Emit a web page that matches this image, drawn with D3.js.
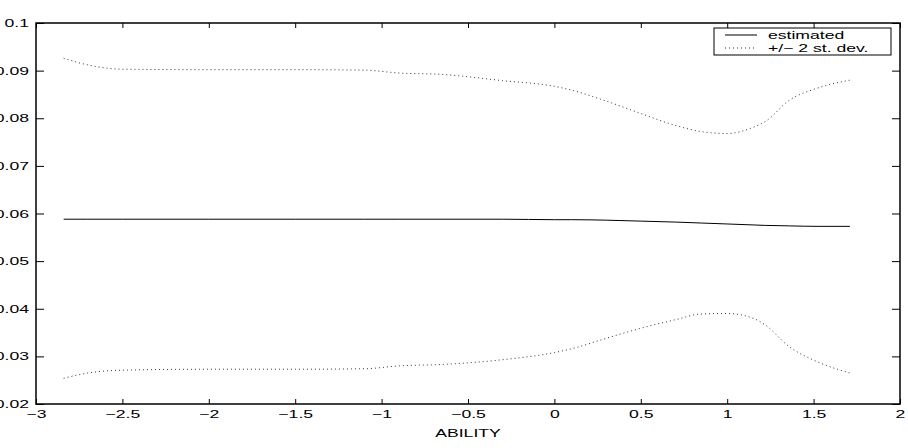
<!DOCTYPE html>
<html>
<head>
<meta charset="utf-8">
<script src="https://cdn.jsdelivr.net/npm/d3@7"></script>
<style>
  body { margin: 0; background: #fff; }
  svg text { font-family: "Liberation Sans", Arial, Helvetica, sans-serif; }
</style>
</head>
<body>
<div id="chart"></div>
<script>
// data
var ability   = [-2.84, -2.7, -2.5, -2.0, -1.5, -1.1, -0.9, -0.65, -0.3, 0.0, 0.1, 0.3, 0.5, 0.7, 0.85, 1.0, 1.15, 1.22, 1.36, 1.52, 1.71];
var estimated = [0.0588, 0.0588, 0.0588, 0.0588, 0.0588, 0.0588, 0.0588, 0.0588, 0.0588, 0.0587, 0.0587, 0.0586, 0.0584, 0.0582, 0.0580, 0.0578, 0.0576, 0.0575, 0.0574, 0.0573, 0.0573];
var upperBand = [0.0926, 0.0912, 0.0903, 0.0902, 0.0902, 0.0901, 0.0895, 0.0892, 0.0879, 0.0867, 0.0859, 0.0836, 0.0810, 0.0785, 0.0772, 0.0768, 0.0781, 0.0793, 0.0838, 0.0863, 0.0880];
var lowerBand = [0.0254, 0.0265, 0.0271, 0.0273, 0.0273, 0.0274, 0.0280, 0.0283, 0.0293, 0.0308, 0.0316, 0.0338, 0.0359, 0.0377, 0.0389, 0.0390, 0.0380, 0.0366, 0.0320, 0.0289, 0.0265];
var xTicks = [-3, -2.5, -2, -1.5, -1, -0.5, 0, 0.5, 1, 1.5, 2];
var yTicks = [0.02, 0.03, 0.04, 0.05, 0.06, 0.07, 0.08, 0.09, 0.1];
var legendText = ['estimated', '+/\u2212 2 st. dev.'];

var width = 908, height = 448;
var margin = {left: 36, right: 8, top: 23, bottom: 44};
var stretch = 1.6; // text in the picture is stretched sideways

var svg = d3.select('#chart').append('svg')
	.attr('width', width)
	.attr('height', height);

var x = d3.scaleLinear().domain([-3, 2]).range([margin.left, width - margin.right]);
var y = d3.scaleLinear().domain([0.02, 0.1]).range([height - margin.bottom, margin.top]);

function fmt(d) { return String(+d.toFixed(2)).replace('-', '\u2212'); }

// axes, ticks pointing in
var gx = svg.append('g')
	.attr('transform', 'translate(0,' + y.range()[0] + ')')
	.call(d3.axisBottom(x).tickValues(xTicks).tickSize(-5).tickPadding(6).tickFormat(fmt));
svg.append('g')
	.attr('transform', 'translate(0,' + y.range()[1] + ')')
	.call(d3.axisTop(x).tickValues(xTicks).tickSize(-5).tickFormat(''));
var gy = svg.append('g')
	.attr('transform', 'translate(' + x.range()[0] + ',0)')
	.call(d3.axisLeft(y).tickValues(yTicks).tickSize(-8).tickPadding(7).tickFormat(fmt));
svg.append('g')
	.attr('transform', 'translate(' + x.range()[1] + ',0)')
	.call(d3.axisRight(y).tickValues(yTicks).tickSize(-8).tickFormat(''));

svg.selectAll('.domain').remove();
svg.selectAll('.tick line').attr('stroke', '#000').attr('stroke-width', 1);
svg.selectAll('.tick text').attr('fill', '#000').attr('font-size', 11);

// stretch the labels sideways, keep them in place
gy.selectAll('.tick text').each(function() {
	var t = d3.select(this);
	t.attr('x', +t.attr('x') / stretch).attr('transform', 'scale(' + stretch + ',1)');
});
gx.selectAll('.tick text').attr('transform', 'scale(' + stretch + ',1)');

// frame
svg.append('rect')
	.attr('x', x.range()[0])
	.attr('y', y.range()[1])
	.attr('width', x.range()[1] - x.range()[0])
	.attr('height', y.range()[0] - y.range()[1])
	.attr('fill', 'none')
	.attr('stroke', '#000')
	.attr('stroke-width', 1.5);

var line = d3.line()
	.x(function(d) { return x(d[0]); })
	.y(function(d) { return y(d[1]); })
	.curve(d3.curveMonotoneX);

function pairs(vals) { return ability.map(function(a, i) { return [a, vals[i]]; }); }

svg.append('path').datum(pairs(upperBand))
	.attr('d', line).attr('fill', 'none')
	.attr('stroke', '#333').attr('stroke-width', 1).attr('stroke-dasharray', '1,3');
svg.append('path').datum(pairs(lowerBand))
	.attr('d', line).attr('fill', 'none')
	.attr('stroke', '#333').attr('stroke-width', 1).attr('stroke-dasharray', '1,3');
svg.append('path').datum(pairs(estimated))
	.attr('d', line).attr('fill', 'none')
	.attr('stroke', '#000').attr('stroke-width', 1);

// x label
svg.append('text')
	.attr('transform', 'translate(' + (x.range()[0] + x.range()[1]) / 2 + ',437) scale(' + stretch + ',1)')
	.attr('text-anchor', 'middle')
	.attr('font-size', 11)
	.text('ABILITY');

// legend
var lg = svg.append('g').attr('transform', 'translate(714,28)');
lg.append('rect')
	.attr('width', 177).attr('height', 27)
	.attr('fill', '#fff').attr('stroke', '#000').attr('stroke-width', 1);
var rows = lg.selectAll('g.row')
	.data(legendText)
	.enter()
	.append('g')
	.attr('class', 'row')
	.attr('transform', function(d, i) { return 'translate(0,' + (7 + 13 * i) + ')'; });
rows.append('line')
	.attr('x1', 11).attr('x2', 43)
	.attr('stroke', function(d, i) { return i ? '#333' : '#000'; })
	.attr('stroke-width', 1)
	.attr('stroke-dasharray', function(d, i) { return i ? '1,3' : null; });
rows.append('text')
	.attr('transform', 'translate(54,4) scale(' + stretch + ',1)')
	.attr('font-size', 11)
	.text(function(d) { return d; });
</script>
</body>
</html>
